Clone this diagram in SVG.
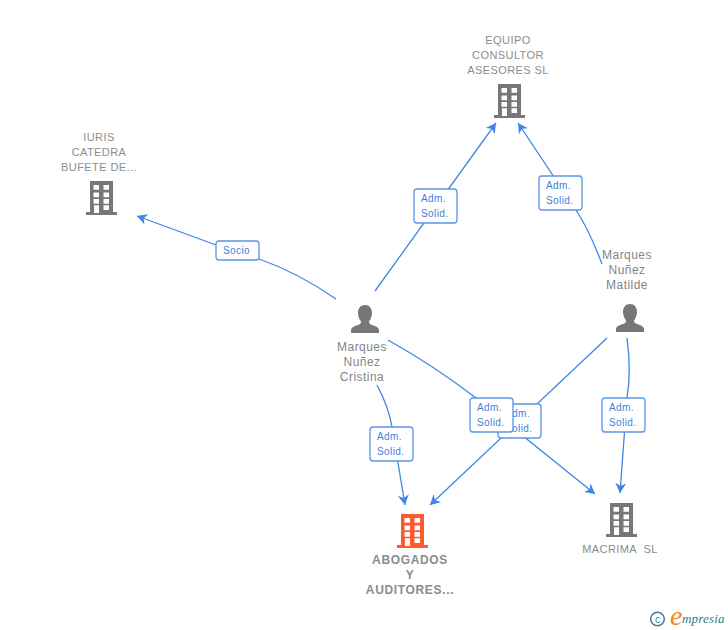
<svg xmlns="http://www.w3.org/2000/svg" width="728" height="630" viewBox="0 0 728 630">
<style>
text{font-family:"Liberation Sans",Arial,sans-serif}
.n{font-size:11px;fill:#8c8c8c;text-anchor:middle;letter-spacing:.42px}
.p{font-size:12px;fill:#858585;text-anchor:middle;letter-spacing:.45px}
.b{font-size:12px;font-weight:bold;fill:#8c8c8c;text-anchor:middle;letter-spacing:.65px}
.e{fill:none;stroke:#3f85e6;stroke-width:1.3}
.l{fill:#fff;stroke:#5a96e8;stroke-width:1.3}
.t{font-size:10px;fill:#3f7fdc;letter-spacing:.4px}
.g{fill:#777}
.o{fill:#ff5a2b}
</style>
<defs>
<marker id="a" markerUnits="userSpaceOnUse" markerWidth="12" markerHeight="12" refX="10" refY="5.500" orient="auto" viewBox="0 0 12 11"><path d="M0,0 L10,5.500 L0,11 L3,5.500 Z" fill="#3f85e6"/></marker>
<symbol id="bld" viewBox="0 0 32 34" width="32" height="34" overflow="visible">
<path fill-rule="evenodd" d="M4,0H27V31H31V34H0V31H4Z M7.500,4V8.800H13V4Z M17.500,4V8.800H23V4Z M7.500,11.500V16.200H13V11.500Z M17.500,11.500V16.200H23V11.500Z M7.500,18V22.800H13V18Z M17.500,18V22.800H23V18Z M8,24.300V32H13V24.300Z M17.500,24.300V29H23V24.300Z"/>
</symbol>
<symbol id="per" viewBox="0 0 28 28" width="28" height="28" overflow="visible">
<path d="M14,0C18.500,0 21,3.500 21,8C21,11.500 19.500,14.500 18,16.500C18,18 18.500,19 20.500,19.800C24,21 28,22 28,25.500V28H0V25.500C0,22 4,21 7.500,19.800C9.500,19 10,18 10,16.500C8.500,14.500 7,11.500 7,8C7,3.500 9.500,0 14,0Z"/>
</symbol>
</defs>
<g id="connectors">
<path class="e" marker-end="url(#a)" d="M336,299C310,281 285,268 259,259L216,245L137,216"/>
<path class="e" marker-end="url(#a)" d="M375,291L496,123"/>
<path class="e" marker-end="url(#a)" d="M602,264C594,243 586,225 576,210L518,123"/>
<path class="e" marker-end="url(#a)" d="M377,385C385,400 390,415 392,427L405,505"/>
<path class="e" marker-end="url(#a)" d="M388,340C420,358 450,378 476,398L595,494"/>
<path class="e" marker-end="url(#a)" d="M607,338L430,505"/>
<path class="e" marker-end="url(#a)" d="M627,338C630,360 630,380 627,398L620,493"/>
</g>
<g id="edge-labels">
<g><rect class="l" x="216" y="241" width="43" height="19" rx="3"/><text class="t" x="223" y="254">Socio</text></g>
<g><rect class="l" x="414" y="189" width="43" height="34" rx="3"/><text class="t" x="421" y="202">Adm.</text><text class="t" x="421" y="217">Solid.</text></g>
<g><rect class="l" x="539" y="176" width="43" height="34" rx="3"/><text class="t" x="546" y="189">Adm.</text><text class="t" x="546" y="204">Solid.</text></g>
<g><rect class="l" x="370" y="427" width="43" height="34" rx="3"/><text class="t" x="377" y="440">Adm.</text><text class="t" x="377" y="455">Solid.</text></g>
<g><rect class="l" x="498" y="404" width="43" height="34" rx="3"/><text class="t" x="505" y="417">Adm.</text><text class="t" x="505" y="432">Solid.</text></g>
<g><rect class="l" x="470" y="398" width="43" height="34" rx="3"/><text class="t" x="477" y="411">Adm.</text><text class="t" x="477" y="426">Solid.</text></g>
<g><rect class="l" x="602" y="398" width="43" height="34" rx="3"/><text class="t" x="609" y="411">Adm.</text><text class="t" x="609" y="426">Solid.</text></g>
</g>
<g id="iuris"><use href="#bld" class="g" x="86" y="181"/><text class="n" x="99" y="141">IURIS</text><text class="n" x="99" y="156">CATEDRA</text><text class="n" x="99" y="171">BUFETE DE...</text></g>
<g id="equipo"><use href="#bld" class="g" x="494" y="84"/><text class="n" x="508" y="44">EQUIPO</text><text class="n" x="508" y="59">CONSULTOR</text><text class="n" x="508" y="74">ASESORES SL</text></g>
<g id="cristina"><use href="#per" class="g" x="351" y="305"/><text class="p" x="362" y="351">Marques</text><text class="p" x="362" y="366">Nuñez</text><text class="p" x="362" y="381">Cristina</text></g>
<g id="matilde"><use href="#per" class="g" x="616" y="304"/><text class="p" x="627" y="259">Marques</text><text class="p" x="627" y="274">Nuñez</text><text class="p" x="627" y="289">Matilde</text></g>
<g id="abogados"><use href="#bld" class="o" x="397" y="514"/><text class="b" x="410" y="564">ABOGADOS</text><text class="b" x="410" y="579">Y</text><text class="b" x="410" y="594">AUDITORES...</text></g>
<g id="macrima"><use href="#bld" class="g" x="606" y="503"/><text class="n" x="620" y="553" xml:space="preserve">MACRIMA  SL</text></g>
<g id="logo"><circle cx="657.500" cy="619" r="6.800" fill="none" stroke="#3f7f8f" stroke-width="1.500"/><text x="657.500" y="622.500" font-size="10.500" fill="#3f7f8f" text-anchor="middle">c</text><text x="670" y="625" font-size="28" fill="#f08a1d" style="font-family:'Liberation Serif',serif;font-style:italic">e</text><text x="682" y="623" font-size="13" fill="#2f7f8f" style="font-family:'Liberation Serif',serif;font-style:italic;letter-spacing:.2px">mpresia</text></g>
</svg>
